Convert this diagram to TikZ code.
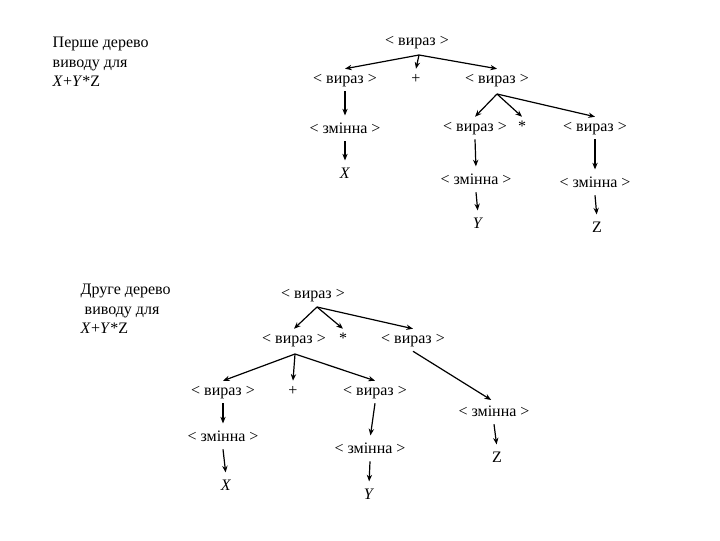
\documentclass[tikz,border=0pt]{standalone}
\usepackage{fontspec}
\setmainfont{Liberation Serif}
\usetikzlibrary{arrows.meta}

\tikzset{
  vuz/.style={font=\fontsize{12}{14.5}\selectfont, inner sep=3pt,
              text height=8pt, text depth=2.5pt},
  napys/.style={font=\fontsize{12}{14.5}\selectfont, anchor=west, align=left},
  strilka/.style={line width=0.9pt, -{Stealth[length=5pt,width=4pt]}},
  vniz/.style={strilka, shorten >=2.5pt},
}

\begin{document}
\begin{tikzpicture}[x=0.75pt,y=-0.75pt]
\useasboundingbox (0,0) rectangle (720,540);

% Перше дерево
\node[napys] (t1) at (48,62) {Перше дерево\\виводу для\\\textit{X}+\textit{Y}*Z};

\node[vuz] (a)     at (417,42)  {< вираз >};
\node[vuz] (a1)    at (345,80)  {< вираз >};
\node[vuz] (a2)    at (416,80)  {+};
\node[vuz] (a3)    at (497,80)  {< вираз >};
\node[vuz] (a11)   at (345,130) {< змінна >};
\node[vuz] (a111)  at (345,175) {\textit{X}};
\node[vuz] (a31)   at (475,128) {< вираз >};
\node[vuz] (a32)   at (522,128) {*};
\node[vuz] (a33)   at (595,128) {< вираз >};
\node[vuz] (a311)  at (476,181) {< змінна >};
\node[vuz] (a3111) at (478,225) {\textit{Y}};
\node[vuz] (a331)  at (595,184) {< змінна >};
\node[vuz] (a3311) at (597,229) {Z};

\coordinate (ra) at (419,55);
\coordinate (rb) at (497,94);

\foreach \k in {a1,a2,a3} \draw[strilka] (ra) -- (\k.north);
\foreach \k in {a31,a32,a33} \draw[strilka] (rb) -- (\k.north);

\draw[vniz] (a1.south)   -- (a11.north);
\draw[vniz] (a11.south)  -- (a111.north);
\draw[vniz] (a31.south)  -- (a311.north);
\draw[vniz] (a311.south) -- (a3111.north);
\draw[vniz] (a33.south)  -- (a331.north);
\draw[vniz] (a331.south) -- (a3311.north);

% Друге дерево
\node[napys] (t2) at (76,309) {Друге дерево\\\hspace{3pt}виводу для\\\textit{X}+\textit{Y}*Z};

\node[vuz] (b)     at (313,295) {< вираз >};
\node[vuz] (b1)    at (294,340) {< вираз >};
\node[vuz] (b2)    at (343,340) {*};
\node[vuz] (b3)    at (413,340) {< вираз >};
\node[vuz] (b11)   at (223,392) {< вираз >};
\node[vuz] (b12)   at (293,392) {+};
\node[vuz] (b13)   at (375,392) {< вираз >};
\node[vuz] (b111)  at (223,438) {< змінна >};
\node[vuz] (b1111) at (226,487) {\textit{X}};
\node[vuz] (b131)  at (370,450) {< змінна >};
\node[vuz] (b1311) at (369,496) {\textit{Y}};
\node[vuz] (b31)   at (494,413) {< змінна >};
\node[vuz] (b311)  at (497,459) {Z};

\coordinate (rc) at (317,307);
\coordinate (rd) at (295,354);

\foreach \k in {b1,b2,b3} \draw[strilka] (rc) -- (\k.north);
\foreach \k in {b11,b12,b13} \draw[strilka] (rd) -- (\k.north);

\draw[vniz] (b3.south)   -- (b31.north);
\draw[vniz] (b31.south)  -- (b311.north);
\draw[vniz] (b11.south)  -- (b111.north);
\draw[vniz] (b111.south) -- (b1111.north);
\draw[vniz] (b13.south)  -- (b131.north);
\draw[vniz] (b131.south) -- (b1311.north);

\end{tikzpicture}
\end{document}
